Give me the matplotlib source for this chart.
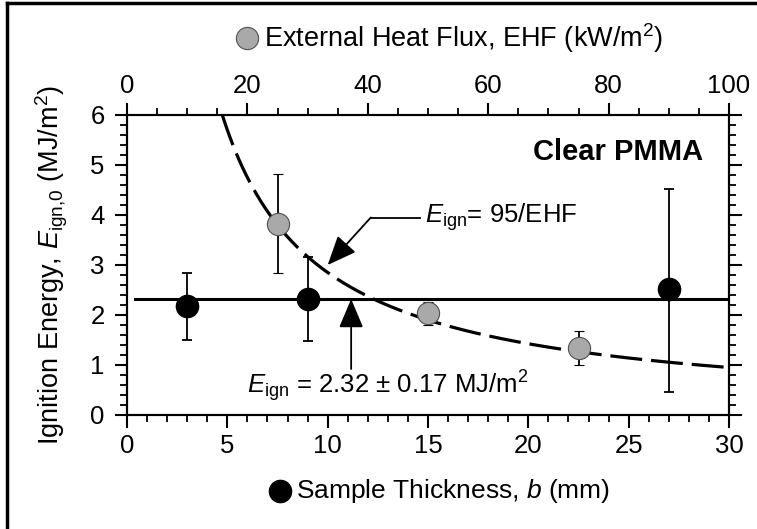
import numpy as np
import matplotlib
matplotlib.use("Agg")
import matplotlib.pyplot as plt
from matplotlib.lines import Line2D
from matplotlib.ticker import MultipleLocator

# fonts
plt.rcParams['font.family'] = ['Liberation Sans', 'DejaVu Sans']
plt.rcParams['mathtext.fontset'] = 'custom'
plt.rcParams['mathtext.rm'] = 'Liberation Sans'
plt.rcParams['mathtext.it'] = 'Liberation Sans:italic'

# data: sample thickness series (black)
thickness = [3, 9, 27]                 # mm
e_thick = [2.18, 2.32, 2.53]           # MJ/m2
e_thick_lo = [1.51, 1.49, 0.47]
e_thick_hi = [2.85, 3.17, 4.53]

# data: external heat flux series (grey)
ehf = [25, 50, 75]                     # kW/m2
e_ehf = [3.83, 2.04, 1.34]
e_ehf_lo = [2.84, 1.81, 1.01]
e_ehf_hi = [4.83, 2.27, 1.68]

e_mean = 2.32      # mean ignition energy
fit_coeff = 95     # E_ign = 95/EHF

FS = 18.5

fig = plt.figure(figsize=(7.57, 5.29), dpi=100)
ax = fig.add_axes([127/757, 1 - 415/529, 602/757, 300/529])
ax2 = ax.twiny()

# mean line
ax.plot([0.4, 30], [e_mean, e_mean], color='black', lw=2.2, zorder=2)

# black points
yerr_b = [np.array(e_thick) - np.array(e_thick_lo), np.array(e_thick_hi) - np.array(e_thick)]
ax.errorbar(thickness, e_thick, yerr=yerr_b, fmt='o', ms=16, mfc='black', mec='black',
            ecolor='black', elinewidth=1.3, capsize=3.5, capthick=1.3, zorder=4)

# fit curve on top axis
flux = np.linspace(fit_coeff / 6.0, 100, 300)
ax2.plot(flux, fit_coeff / flux, color='black', lw=2.3, dashes=(10, 2.8), zorder=3)

# grey points
yerr_g = [np.array(e_ehf) - np.array(e_ehf_lo), np.array(e_ehf_hi) - np.array(e_ehf)]
ax2.errorbar(ehf, e_ehf, yerr=yerr_g, fmt='o', ms=16, mfc='#a9a9a9', mec='#505050', mew=0.8,
             ecolor='black', elinewidth=1.3, capsize=3.5, capthick=1.3, zorder=4)

# axes limits and ticks
ax.set_xlim(0, 30)
ax.set_ylim(0, 6)
ax2.set_xlim(0, 100)
ax.xaxis.set_major_locator(MultipleLocator(5))
ax.xaxis.set_minor_locator(MultipleLocator(1))
ax.yaxis.set_major_locator(MultipleLocator(1))
ax.yaxis.set_minor_locator(MultipleLocator(0.2))
ax2.xaxis.set_major_locator(MultipleLocator(20))
ax2.xaxis.set_minor_locator(MultipleLocator(5))

for a in (ax, ax2):
    for s in a.spines.values():
        s.set_linewidth(1.5)
    a.tick_params(which='major', direction='out', length=9, width=1.5, labelsize=FS, pad=4)
    a.tick_params(which='minor', direction='out', length=5, width=1.3)
ax.tick_params(which='both', top=False, right=True, labelright=False)
ax.tick_params(axis='y', which='major', pad=7)
ax.tick_params(axis='x', which='major', pad=5)
ax2.tick_params(axis='x', which='major', pad=3)

# labels
ax.set_ylabel(r'Ignition Energy, $E_{\mathrm{ign{,}0}}$ (MJ/m$^{2}$)', fontsize=19.5, labelpad=15)
fig.text(296/757, 1 - 491/529, r'Sample Thickness, $b$ (mm)', fontsize=19, ha='left', va='center')
fig.add_artist(Line2D([280/757], [1 - 491/529], marker='o', ms=16, mfc='black', mec='black',
                      transform=fig.transFigure))
fig.text(264/757, 1 - 38/529, r'External Heat Flux, EHF (kW/m$^{2}$)', fontsize=19.5, ha='left', va='center')
fig.add_artist(Line2D([247/757], [1 - 38/529], marker='o', ms=16, mfc='#a9a9a9', mec='#505050', mew=0.8,
                      transform=fig.transFigure))

ax.text(28.7, 5.27, 'Clear PMMA', fontsize=21, fontweight='bold', ha='right', va='center')

# annotation: fit curve
ax.plot([12.15, 14.6], [3.95, 3.95], color='black', lw=1.3)
ax.annotate('', xy=(10.0, 3.0), xytext=(12.15, 3.95),
            arrowprops=dict(arrowstyle='-|>,head_length=0.9,head_width=0.38', mutation_scale=20,
                            lw=1.3, color='black', shrinkA=0, shrinkB=0))
ax.text(14.85, 3.95, r'$E_{\mathrm{ign}}$= 95/EHF', fontsize=FS, ha='left', va='center')

# annotation: mean
ax.annotate('', xy=(11.17, e_mean), xytext=(11.17, 0.92),
            arrowprops=dict(arrowstyle='-|>,head_length=0.9,head_width=0.38', mutation_scale=20,
                            lw=1.3, color='black', shrinkA=0, shrinkB=0))
ax.text(13.0, 0.58, r'$E_{\mathrm{ign}}$ = 2.32 ± 0.17 MJ/m$^{2}$', fontsize=FS, ha='center', va='center')

# frame around figure (left and top)
fig.add_artist(Line2D([7/757, 7/757], [0, 1 - 3/529], color='black', lw=2.5, transform=fig.transFigure))
fig.add_artist(Line2D([7/757, 1], [1 - 3/529, 1 - 3/529], color='black', lw=2.5, transform=fig.transFigure))

fig.savefig('out.png', dpi=100)
